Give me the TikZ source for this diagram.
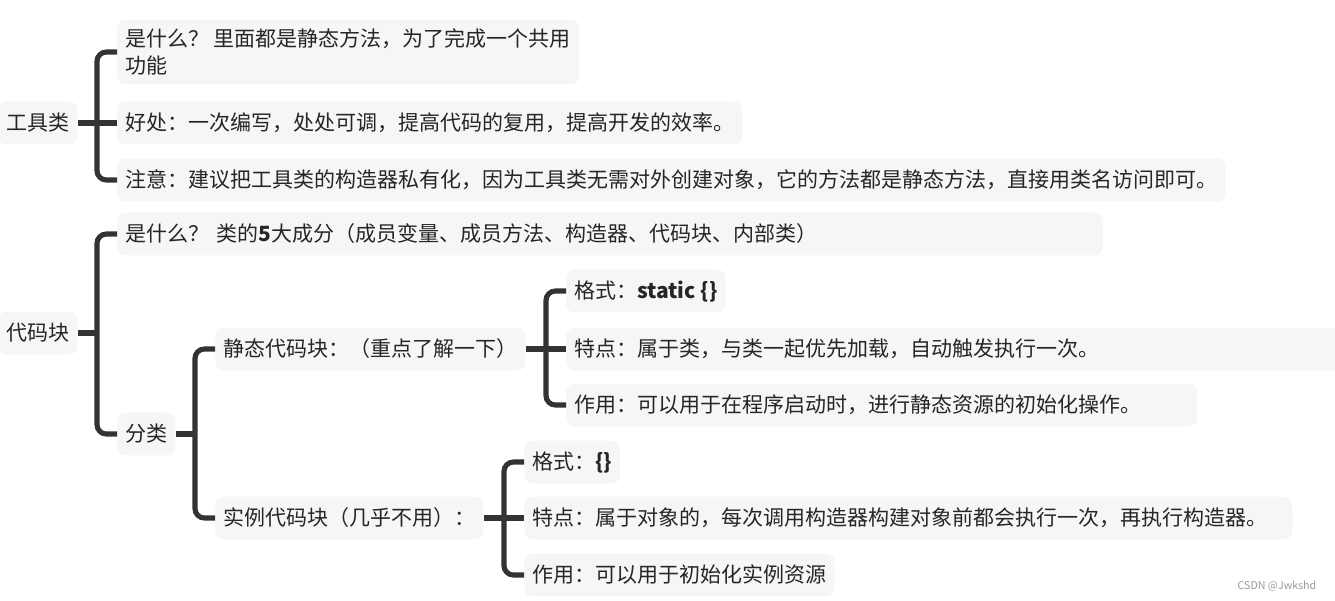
\documentclass[tikz,border=0pt]{standalone}
\usepackage{fontspec}
\setmainfont{Noto Sans CJK SC}
\usetikzlibrary{positioning}
\definecolor{mmLine}{HTML}{333333}
\definecolor{mmFill}{HTML}{F7F5F5}
\definecolor{mmText}{HTML}{262626}
\definecolor{mmGrey}{HTML}{9A9A9A}
\tikzset{
  topic/.style={
    fill=mmFill, rounded corners=6pt, anchor=west, align=left,
    inner xsep=6pt, inner ysep=7pt, minimum height=32pt,
    font=\fontsize{15.75pt}{20pt}\selectfont, text=mmText},
  wide/.style={text width=#1},
  spine/.style={draw=mmLine, line width=3.8pt, rounded corners=7pt},
  wmark/.style={font=\fontsize{8pt}{9pt}\selectfont, text=mmGrey, anchor=east},
}

\begin{document}
\begin{tikzpicture}[x=0.75pt, y=-0.75pt]
\useasboundingbox (0,0) rectangle (1335,600);

% 工具类
\node[topic] (gj)  at (-2,123) {工具类};
\node[topic] (gj1) at (117,52)  {是什么？ 里面都是静态方法，为了完成一个共用\\功能};
\node[topic] (gj2) at (117,123) {好处：一次编写，处处可调，提高代码的复用，提高开发的效率。};
\node[topic] (gj3) at (117,180) {注意：建议把工具类的构造器私有化，因为工具类无需对外创建对象，它的方法都是静态方法，直接用类名访问即可。};

\draw[spine] (gj.east) -- (gj2.west);
\draw[spine] (gj1.west) -- ++(-20,0) |- (gj3.west);

% 代码块
\node[topic] (dm)  at (-2,333)  {代码块};
\node[topic, wide=727pt] (dm1) at (117,234) {是什么？ 类的\textbf{5}大成分（成员变量、成员方法、构造器、代码块、内部类）};
\node[topic] (fl)  at (117,434) {分类};

\draw[spine] (dm.east) -- ++(21,0);
\draw[spine] (dm1.west) -- ++(-20,0) |- (fl.west);

\node[topic] (jt) at (215,349) {静态代码块：（重点了解一下）};
\node[topic] (sl) at (215,518) {实例代码块（几乎不用）：};

\draw[spine] (fl.east) -- ++(19,0);
\draw[spine] (jt.west) -- ++(-20,0) |- (sl.west);

% 静态代码块
\node[topic] (jt1) at (566,291) {格式：\textbf{static \{\}}};
\node[topic, wide=572pt] (jt2) at (566,349) {特点：属于类，与类一起优先加载，自动触发执行一次。};
\node[topic, wide=461pt] (jt3) at (566,405) {作用：可以用于在程序启动时，进行静态资源的初始化操作。};

\draw[spine] (jt.east) -- (jt2.west);
\draw[spine] (jt1.west) -- ++(-20,0) |- (jt3.west);

% 实例代码块
\node[topic] (sl1) at (524,462) {格式：\textbf{\{\}}};
\node[topic, wide=564pt] (sl2) at (524,518) {特点：属于对象的，每次调用构造器构建对象前都会执行一次，再执行构造器。};
\node[topic] (sl3) at (524,575) {作用：可以用于初始化实例资源};

\draw[spine] (sl.east) -- (sl2.west);
\draw[spine] (sl1.west) -- ++(-20,0) |- (sl3.west);

\node[wmark] (wm) at (1321,586) {CSDN @Jwkshd};

\end{tikzpicture}
\end{document}
